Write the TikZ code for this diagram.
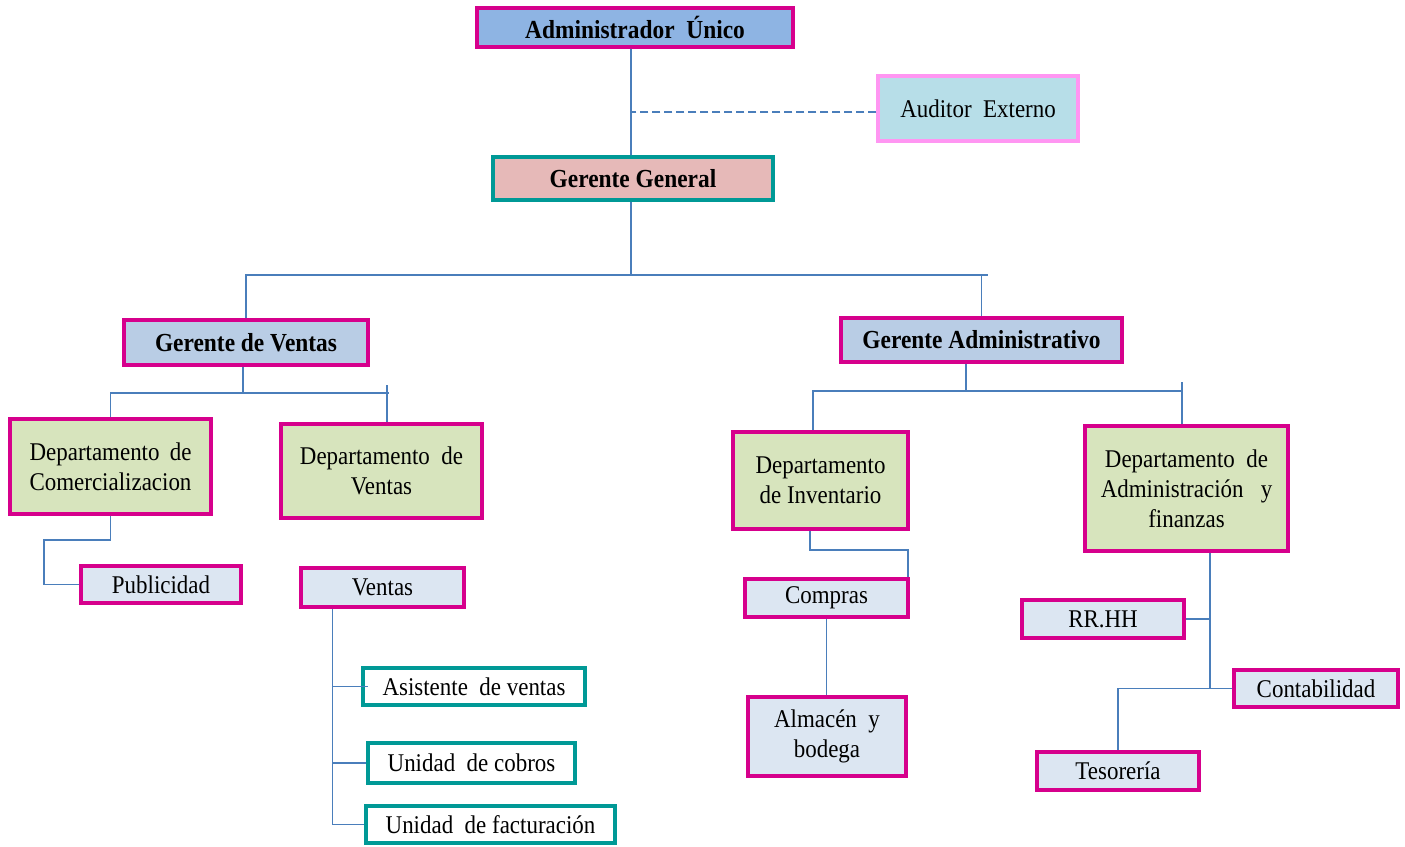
\documentclass[tikz,border=0pt]{standalone}
\usepackage{fontspec}
\usepackage{calc}
\setmainfont{Liberation Serif}[FakeStretch=0.9]
\definecolor{magborder}{RGB}{214,0,140}
\definecolor{tealborder}{RGB}{0,153,150}
\definecolor{pinkborder}{RGB}{255,150,242}
\definecolor{fillAdmin}{RGB}{142,180,227}
\definecolor{fillAud}{RGB}{183,222,232}
\definecolor{fillGG}{RGB}{230,185,184}
\definecolor{fillMgr}{RGB}{185,205,229}
\definecolor{fillDept}{RGB}{215,228,189}
\definecolor{fillUnit}{RGB}{220,230,242}
\definecolor{linkblue}{RGB}{74,126,187}
\tikzset{
  box/.style={draw, line width=4bp, rectangle, inner sep=0pt, align=center,
    font=\fontsize{25.5bp}{30bp}\selectfont},
  topbox/.style={box, draw=magborder, fill=fillAdmin, font=\fontsize{26bp}{30bp}\selectfont\bfseries},
  audbox/.style={box, draw=pinkborder, fill=fillAud},
  ggbox/.style={box, draw=tealborder, fill=fillGG, font=\fontsize{26bp}{30bp}\selectfont\bfseries},
  mgrbox/.style={box, draw=magborder, fill=fillMgr, font=\fontsize{26bp}{30bp}\selectfont\bfseries},
  deptbox/.style={box, draw=magborder, fill=fillDept},
  unitbox/.style={box, draw=magborder, fill=fillUnit},
  staffbox/.style={box, draw=tealborder, fill=white},
  conn/.style={draw=linkblue, line width=1.6bp},
}
\begin{document}
\begin{tikzpicture}[x=1bp, y=-1bp]
\useasboundingbox (0,0) rectangle (1405,846);

% top level
\node[topbox, minimum width=318, minimum height=39] (admin) at (635,27.5) {Administrador\ \ Único};
\node[audbox, minimum width=200, minimum height=65] (aud) at (978,108.5) {Auditor\ \ Externo};
\node[ggbox, minimum width=282, minimum height=43] (gg) at (633,178.5) {Gerente General};

% managers
\node[mgrbox, minimum width=244, minimum height=45] (gv) at (246,342.5) {Gerente de Ventas};
\node[mgrbox, minimum width=283, minimum height=44] (ga) at (981.5,340) {Gerente Administrativo};

% departments
\node[deptbox, minimum width=201, minimum height=95] (dc) at (110.5,466.5)
  {\makebox[\widthof{Comercializacion}][s]{Departamento\hfill de}\\Comercializacion};
\node[deptbox, minimum width=201, minimum height=94] (dv) at (381.5,471)
  {Departamento\ \ de\\Ventas};
\node[deptbox, minimum width=175, minimum height=97] (di) at (820.5,480.5)
  {Departamento\\de Inventario};
\node[deptbox, minimum width=203, minimum height=125] (daf) at (1186.5,488.5)
  {Departamento\ \ de\\Administración\ \ \ y\\finanzas};

% units
\node[unitbox, minimum width=160, minimum height=37] (pub) at (161,584.5) {Publicidad};
\node[unitbox, minimum width=163, minimum height=39] (ven) at (382.5,587.5) {Ventas};
\node[staffbox, minimum width=222, minimum height=37] (asi) at (474,686.5) {Asistente\ \ de ventas};
\node[staffbox, minimum width=207, minimum height=40] (cob) at (471.5,763) {Unidad\ \ de cobros};
\node[staffbox, minimum width=249, minimum height=37] (fac) at (490.5,824.5) {Unidad\ \ de facturación};
\node[unitbox, minimum width=163, minimum height=38] (com) at (826.5,598) {Compras};
\node[unitbox, minimum width=158, minimum height=79] (alm) at (827,736.5) {Almacén\ \ y\\bodega};
\node[unitbox, minimum width=162, minimum height=38] (rrhh) at (1103,619) {RR.HH};
\node[unitbox, minimum width=164, minimum height=37] (cont) at (1316,688.5) {Contabilidad};
\node[unitbox, minimum width=162, minimum height=38] (tes) at (1118,771) {Tesorería};

% connectors
\draw[conn] ([xshift=-4]admin.south) -- ([xshift=-2]gg.north);
\draw[conn, dash pattern=on 8bp off 4bp] ([yshift=-3.5]aud.west) -- ++(-245,0);
\draw[conn] ([xshift=-2]gg.south) -- ++(0,73);
\draw[conn] (gv.north) -- ++(0,-43) -- ++(742,0);
\draw[conn] (ga.north) -- ++(0,-41);

\draw[conn] ([xshift=-3]gv.south) -- ++(0,26);
\draw[conn] (dc.north) -- ++(0,-24) -- ++(278,0);
\draw[conn] ([xshift=5.5]dv.north) -- ++(0,-37);
\draw[conn] (dc.south) -- ++(0,24) -- ++(-66.5,0) |- (pub.west);

\draw[conn] ([xshift=-50]ven.south) |- (fac.west);
\draw[conn] ([xshift=-50]ven.south) |- ([xshift=7]asi.west);
\draw[conn] ([xshift=-50]ven.south) |- (cob.west);

\draw[conn] ([xshift=-15.5]ga.south) -- ++(0,27);
\draw[conn] ([xshift=-7.5]di.north) -- ++(0,-39) -- ++(369,0);
\draw[conn] ([xshift=-4.5]daf.north) -- ++(0,-42);

\draw[conn] ([xshift=-10.5]di.south) -- ++(0,19) -| ([xshift=81.5]com.north);
\draw[conn] (com.south) -- (com.south |- alm.north);

\draw[conn] ([xshift=23.5]daf.south) |- (cont.west);
\draw[conn] (rrhh.east) -- ++(24,0);
\draw[conn] (cont.west) -| (tes.north);
\end{tikzpicture}
\end{document}
